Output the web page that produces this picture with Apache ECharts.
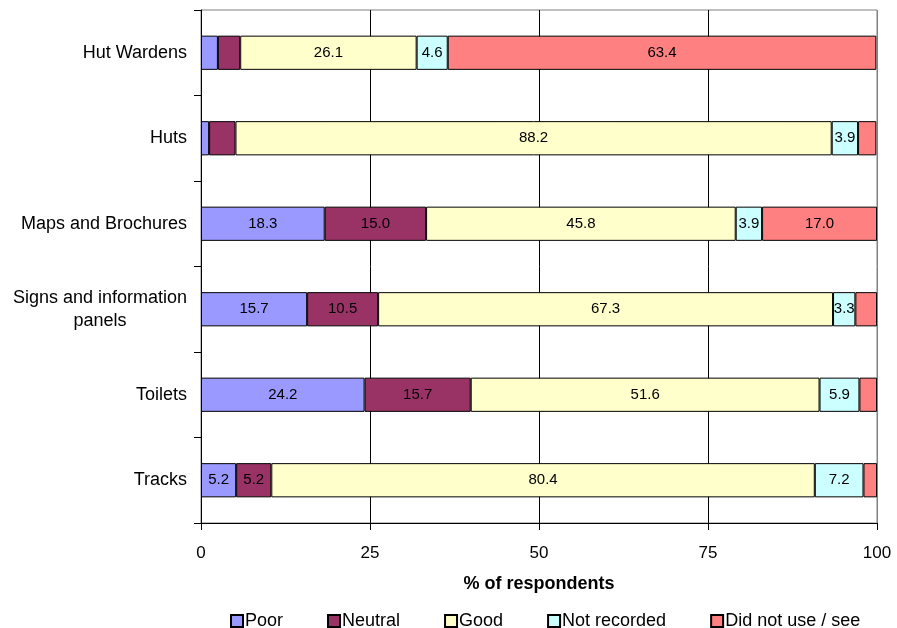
<!DOCTYPE html>
<html>
<head>
<meta charset="utf-8">
<script src="https://cdn.jsdelivr.net/npm/echarts@6/dist/echarts.min.js"></script>
<style>
  html, body { margin: 0; padding: 0; background: #fff; }
  #chart { width: 897px; height: 628px; }
</style>
</head>
<body>
<div id="chart"></div>
<script>
// Facility ratings, % of respondents per category
const categories = ['Hut Wardens', 'Huts', 'Maps and Brochures', 'Signs and information panels', 'Toilets', 'Tracks'];
const poor        = [2.5, 1.2, 18.3, 15.7, 24.2, 5.2];
const neutral     = [3.3, 3.9, 15.0, 10.5, 15.7, 5.2];
const good        = [26.1, 88.2, 45.8, 67.3, 51.6, 80.4];
const notRecorded = [4.6, 3.9, 3.9, 3.3, 5.9, 7.2];
const didNotUse   = [63.4, 2.7, 17.0, 3.2, 2.6, 2.0];
const xTicks = [0, 25, 50, 75, 100];

const FONT = '"Liberation Sans", Arial, sans-serif';

function makeSeries(name, data, color, minLabel) {
  return {
    name: name,
    type: 'bar',
    stack: 'total',
    barWidth: '40%',
    data: data,
    itemStyle: { color: color, borderColor: '#000', borderWidth: 1 },
    label: {
      show: true,
      position: 'inside',
      color: '#000',
      fontFamily: FONT,
      fontSize: 15,
      formatter: p => (p.value >= minLabel ? p.value.toFixed(1) : '')
    },
    emphasis: { disabled: true }
  };
}

const chart = echarts.init(document.getElementById('chart'));
chart.setOption({
  animation: false,
  textStyle: { fontFamily: FONT },
  grid: {
    left: 201, right: 20, top: 10, bottom: 105,
    show: true, borderColor: '#808080', borderWidth: 1,
    containLabel: false
  },
  legend: {
    left: 225,
    top: 607,
    itemWidth: 12,
    itemHeight: 12,
    itemGap: 44,
    icon: 'rect',
    selectedMode: false,
    textStyle: { fontFamily: FONT, fontSize: 18, color: '#000', padding: [0, 0, 0, -3] }
  },
  xAxis: {
    type: 'value',
    min: 0,
    max: 100,
    interval: 25,
    name: '% of respondents',
    nameLocation: 'middle',
    nameGap: 52,
    nameTextStyle: { fontFamily: FONT, fontSize: 18, fontWeight: 'bold', color: '#000' },
    axisLine: { show: true, lineStyle: { color: '#000', width: 1 } },
    axisTick: { show: true, length: 7, lineStyle: { color: '#000' } },
    axisLabel: {
      color: '#000', fontFamily: FONT, fontSize: 17, margin: 22,
      formatter: v => (xTicks.indexOf(v) >= 0 ? String(v) : '')
    },
    splitLine: { show: true, lineStyle: { color: ['#000', '#000', '#000', '#000', '#808080'], width: 1 } }
  },
  yAxis: {
    type: 'category',
    inverse: true,
    data: categories,
    axisLine: { show: true, lineStyle: { color: '#000', width: 1 } },
    axisTick: { show: true, length: 7, alignWithLabel: false, lineStyle: { color: '#000' } },
    axisLabel: {
      color: '#000',
      fontFamily: FONT,
      fontSize: 18,
      margin: 14,
      align: 'right',
      formatter: function (v) {
        if (v === 'Signs and information panels') {
          return '{c|Signs and information}\n{c|panels}';
        }
        return v;
      },
      rich: {
        c: { align: 'center', fontFamily: FONT, fontSize: 18, color: '#000', lineHeight: 23 }
      }
    },
    splitLine: { show: false }
  },
  series: [
    makeSeries('Poor', poor, '#9999FF', 5),
    makeSeries('Neutral', neutral, '#993366', 5),
    makeSeries('Good', good, '#FFFFCC', 0),
    makeSeries('Not recorded', notRecorded, '#CCFFFF', 0),
    makeSeries('Did not use / see', didNotUse, '#FF8080', 5)
  ]
});
</script>
</body>
</html>
